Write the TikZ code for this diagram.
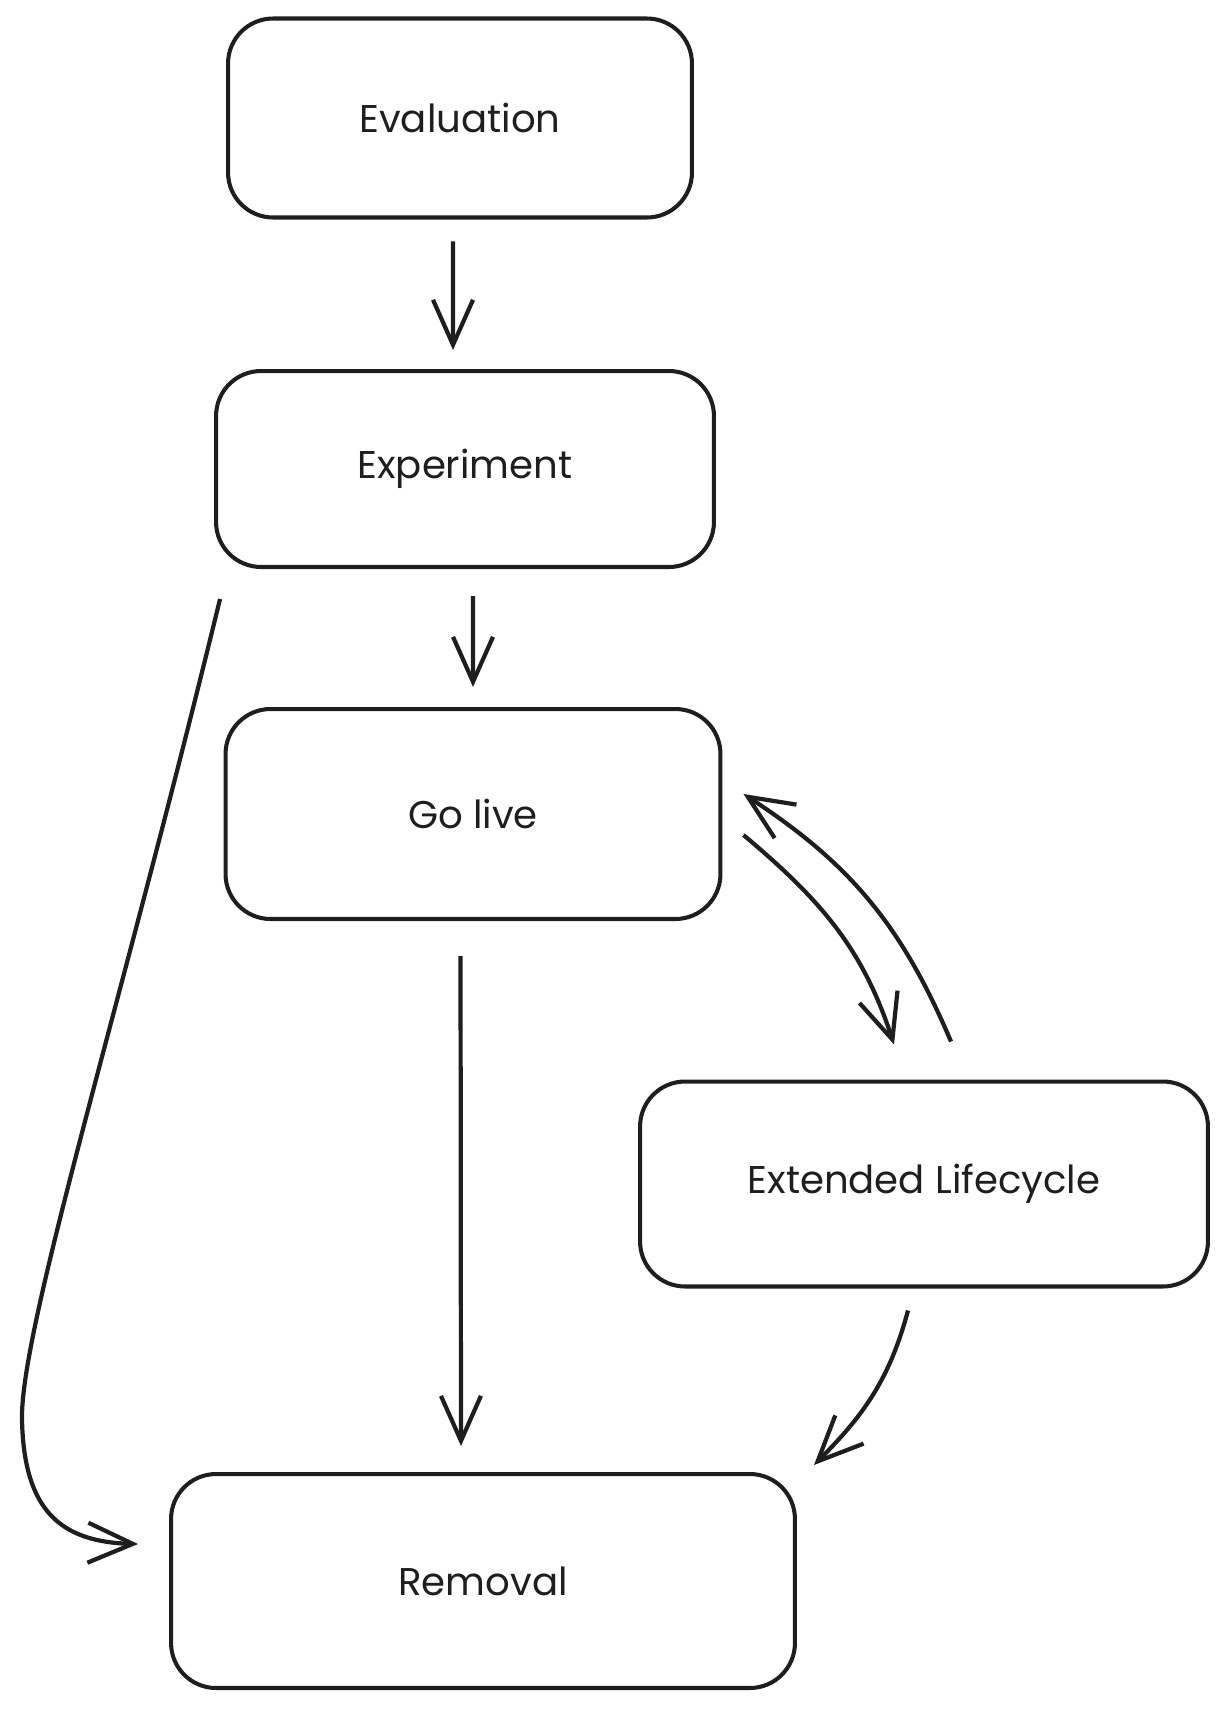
\documentclass[tikz,border=0pt]{standalone}
\usepackage{fontspec}
\setmainfont{Poppins}
\usetikzlibrary{arrows.meta, calc}
\usepackage{xcolor}
\definecolor{ink}{HTML}{1E1E1E}

\begin{document}
\begin{tikzpicture}[
  x=0.02cm, y=-0.02cm,
    box/.style={
        draw=ink,
        rounded corners=0.9cm,
        line width=2.3pt,
        align=center,
        font=\fontsize{22}{26}\selectfont,
        text=ink
    },
    arrow/.style={
        -{Straight Barb[length=0.9cm, width=0.8cm]},
        draw=ink,
        line width=2.4pt
    }
]
\useasboundingbox (0,0) rectangle (1228,1710);

\node[box, minimum width=9.28cm, minimum height=3.98cm] (eval) at (460,118)
{Evaluation};

\node[box, minimum width=9.96cm, minimum height=3.92cm] (exp) at (465,469)
{Experiment};

\node[box, minimum width=9.9cm, minimum height=4.2cm] (golive) at (473,814)
{Go live};

\node[box, minimum width=11.36cm, minimum height=4.1cm] (ext) at (924,1184)
{Extended Lifecycle};

\node[box, minimum width=12.48cm, minimum height=4.28cm] (removal) at (483,1581)
{Removal};

\draw[arrow, shorten <=0.44cm, shorten >=0.38cm]
  ([xshift=-0.14cm]eval.south) -- ([xshift=-0.24cm]exp.north);
\draw[arrow, shorten <=0.54cm, shorten >=0.4cm]
  ([xshift=0.16cm]exp.south) -- (golive.north);
\draw[arrow, shorten <=0.7cm, shorten >=0.52cm]
  ([xshift=-0.25cm]golive.south) -- ([xshift=-0.44cm]removal.north);
\draw[arrow]
  ([xshift=0.12cm, yshift=-0.6cm]exp.south west) .. controls (120,1010) and (20,1330) .. (22,1420)
  .. controls (24,1510) and (60,1542) .. ([xshift=-0.62cm, yshift=0.74cm]removal.west);
\draw[arrow]
  ([xshift=0.42cm, yshift=-0.42cm]golive.east) to[out=-40, in=108]
  ([xshift=-0.6cm, yshift=0.7cm]ext.north);
\draw[arrow]
  ([xshift=0.54cm, yshift=0.76cm]ext.north) to[out=113, in=-33]
  ([xshift=0.42cm, yshift=0.4cm]golive.east);
\draw[arrow]
  ([xshift=-0.32cm, yshift=-0.44cm]ext.south) to[out=-105, in=45]
  ([xshift=0.34cm, yshift=0.14cm]removal.north east);

\end{tikzpicture}
\end{document}
